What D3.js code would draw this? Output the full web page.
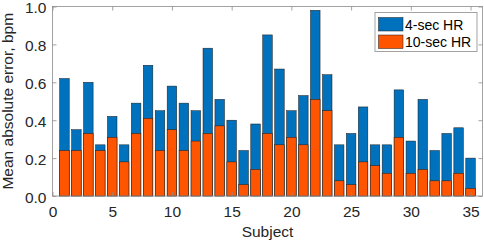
<!DOCTYPE html>
<html><head><meta charset="utf-8">
<script src="https://cdn.jsdelivr.net/npm/d3@7"></script>
<style>body{margin:0;background:#fff}svg{display:block;font-family:"Liberation Sans",Arial,sans-serif}</style>
</head><body><svg id="c" width="484" height="243"></svg>
<script>
const subjects = d3.range(1, 36);
const hr4 = [0.62,0.35,0.60,0.27,0.42,0.27,0.49,0.69,0.45,0.58,0.49,0.45,0.78,0.51,0.40,0.24,0.38,0.85,0.67,0.45,0.53,0.98,0.64,0.27,0.33,0.47,0.27,0.27,0.56,0.29,0.51,0.24,0.33,0.36,0.20];
const hr10 = [0.24,0.24,0.33,0.24,0.31,0.18,0.33,0.41,0.24,0.35,0.24,0.29,0.33,0.37,0.18,0.06,0.14,0.33,0.27,0.31,0.27,0.51,0.45,0.08,0.06,0.18,0.16,0.12,0.31,0.12,0.14,0.08,0.08,0.12,0.04];
const xTicks = [0,5,10,15,20,25,30,35];
const yTicks = [0,0.2,0.4,0.6,0.8,1.0];
const seriesNames = ["4-sec HR","10-sec HR"];
const colors = ["#0072BD","#FF5500"];

const svg = d3.select("#c");
const L=52.5, R=482.5, T=6.5, B=196;
const x = d3.scaleLinear().domain([0,36]).range([L,R]);
const y = d3.scaleLinear().domain([0,1]).range([B,T]);
const bw = (x(1)-x(0))*0.8;

const data = subjects.map((s,i)=>({s, a:hr4[i], b:hr10[i]}));
const g = svg.append("g");
g.selectAll("rect.a").data(data).join("rect").attr("class","a")
  .attr("x",d=>x(d.s)-bw/2).attr("width",bw)
  .attr("y",d=>y(d.a)).attr("height",d=>y(0)-y(d.a))
  .attr("fill",colors[0]).attr("stroke","#1a1a1a").attr("stroke-width",0.5);
g.selectAll("rect.b").data(data).join("rect").attr("class","b")
  .attr("x",d=>x(d.s)-bw/2).attr("width",bw)
  .attr("y",d=>y(d.b)).attr("height",d=>y(0)-y(d.b))
  .attr("fill",colors[1]).attr("stroke","#1a1a1a").attr("stroke-width",0.5);

const axCol = "#8c8c8c";
svg.append("rect").attr("x",L).attr("y",T).attr("width",R-L).attr("height",B-T)
  .attr("fill","none").attr("stroke",axCol).attr("stroke-width",0.8);

const xb = svg.append("g").attr("transform",`translate(0,${B})`)
  .call(d3.axisBottom(x).tickValues(xTicks).tickSize(-4).tickPadding(10).tickFormat(d3.format("d")));
const xt = svg.append("g").attr("transform",`translate(0,${T})`)
  .call(d3.axisTop(x).tickValues(xTicks).tickSize(-4).tickFormat(""));
const yl = svg.append("g").attr("transform",`translate(${L},0)`)
  .call(d3.axisLeft(y).tickValues(yTicks).tickSize(-4).tickPadding(6).tickFormat(d3.format(".1f")));
const yr = svg.append("g").attr("transform",`translate(${R},0)`)
  .call(d3.axisRight(y).tickValues(yTicks).tickSize(-4).tickFormat(""));
[xb,xt,yl,yr].forEach(a=>{
  a.select(".domain").remove();
  a.selectAll("line").attr("stroke",axCol).attr("stroke-width",0.8);
  a.selectAll("text").attr("fill","#262626").attr("font-size",15.5).attr("font-family",'"Liberation Sans",Arial,sans-serif');
});
xb.selectAll("text").attr("dy","0.71em");
yl.selectAll("text").attr("dy","0.4em");

svg.append("text").attr("x",(L+R)/2).attr("y",237).attr("text-anchor","middle")
  .attr("font-size",15.5).attr("fill","#262626").text("Subject");
svg.append("text").attr("transform",`translate(12.5,${(T+B)/2}) rotate(-90)`).attr("text-anchor","middle")
  .attr("font-size",15.5).attr("fill","#262626").text("Mean absolute error, bpm");

const lg = svg.append("g");
lg.append("rect").attr("x",375).attr("y",12.5).attr("width",102).attr("height",39)
  .attr("fill","#fff").attr("stroke",axCol).attr("stroke-width",0.8);
seriesNames.forEach((n,i)=>{
  lg.append("rect").attr("x",378.5).attr("y",17.5+i*17.5).attr("width",24.5).attr("height",13.5)
    .attr("fill",colors[i]).attr("stroke","#1a1a1a").attr("stroke-width",0.5);
  lg.append("text").attr("x",405).attr("y",29.5+i*17.5).attr("font-size",14).attr("fill","#000").text(n);
});
</script></body></html>
